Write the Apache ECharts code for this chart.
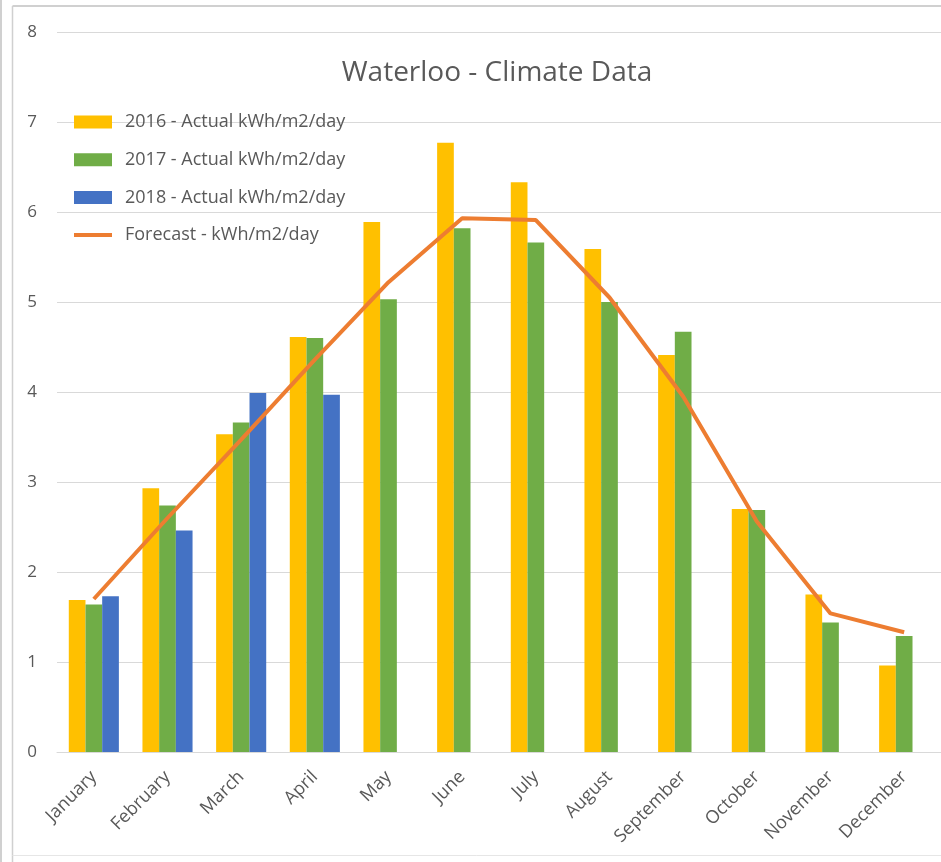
<!DOCTYPE html>
<html>
<head>
<meta charset="utf-8">
<title>Waterloo - Climate Data</title>
<script src="https://cdn.jsdelivr.net/npm/echarts@6/dist/echarts.min.js"></script>
<style>
  html, body { margin: 0; padding: 0; background: #ffffff; }
  #chart { width: 941px; height: 862px; }
</style>
</head>
<body>
<div id="chart"></div>
<script>
// Monthly solar irradiance for Waterloo (kWh/m2/day)
const months = ['January', 'February', 'March', 'April', 'May', 'June',
  'July', 'August', 'September', 'October', 'November', 'December'];
const actual2016 = [1.69, 2.93, 3.53, 4.61, 5.89, 6.77, 6.33, 5.59, 4.41, 2.70, 1.75, 0.96];
const actual2017 = [1.64, 2.74, 3.66, 4.60, 5.03, 5.82, 5.66, 5.00, 4.67, 2.69, 1.44, 1.29];
const actual2018 = [1.73, 2.46, 3.99, 3.97, null, null, null, null, null, null, null, null];
const forecast = [1.70, 2.60, 3.47, 4.36, 5.22, 5.93, 5.91, 5.05, 3.95, 2.56, 1.54, 1.33];
const yTicks = [0, 1, 2, 3, 4, 5, 6, 7, 8];

const seriesNames = [
  '2016 - Actual kWh/m2/day',
  '2017 - Actual kWh/m2/day',
  '2018 - Actual kWh/m2/day',
  'Forecast - kWh/m2/day'
];

const textColor = '#595959';
const fontFamily = '"Open Sans", "Liberation Sans", sans-serif';

// Legend key for the forecast line: a 4px bar centred in the 38x13 icon box
// (the two zero-area sub-paths only pin the box to its full height).
const lineKeyIcon = 'path://M0,0L0.01,0Z M0,4.5L38,4.5L38,8.5L0,8.5Z M0,13L0.01,13Z';

const chart = echarts.init(document.getElementById('chart'), null, { renderer: 'canvas' });

const option = {
  backgroundColor: '#ffffff',
  animation: false,
  color: ['#FFC000', '#70AD47', '#4472C4', '#ED7D31'],
  title: {
    text: 'Waterloo - Climate Data',
    left: 492,
    textAlign: 'center',
    top: 54,
    textStyle: { color: textColor, fontSize: 28, fontWeight: 'normal', fontFamily: fontFamily }
  },
  legend: {
    orient: 'vertical',
    left: 69,
    top: 108,
    padding: 5,
    itemWidth: 38,
    itemHeight: 13,
    itemGap: 19.7,
    textStyle: { color: textColor, fontSize: 18, fontFamily: fontFamily, padding: [0, 0, 0, 8] },
    data: [
      { name: seriesNames[0], icon: 'rect' },
      { name: seriesNames[1], icon: 'rect' },
      { name: seriesNames[2], icon: 'rect' },
      { name: seriesNames[3], icon: lineKeyIcon, itemStyle: { color: '#ED7D31' } }
    ]
  },
  grid: { left: 57, right: 0, top: 32, bottom: 110, containLabel: false },
  xAxis: {
    type: 'category',
    data: months,
    axisLine: { show: true, lineStyle: { color: '#d9d9d9', width: 1 } },
    axisTick: { show: false },
    axisLabel: {
      rotate: 45,
      color: textColor,
      fontSize: 18,
      fontFamily: fontFamily,
      margin: 22,
      interval: 0
    }
  },
  yAxis: {
    type: 'value',
    min: yTicks[0],
    max: yTicks[yTicks.length - 1],
    interval: 1,
    axisLine: { show: false },
    axisTick: { show: false },
    splitLine: { lineStyle: { color: '#d9d9d9', width: 1 } },
    axisLabel: { color: textColor, fontSize: 17, fontFamily: fontFamily, margin: 20 }
  },
  graphic: [
    { type: 'line', shape: { x1: 12.5, y1: 6, x2: 941, y2: 6 }, style: { stroke: '#d0d0d0', lineWidth: 2 } },
    { type: 'line', shape: { x1: 12.5, y1: 6, x2: 12.5, y2: 862 }, style: { stroke: '#d0d0d0', lineWidth: 1.5 } },
    { type: 'line', shape: { x1: 12.5, y1: 855.5, x2: 941, y2: 855.5 }, style: { stroke: '#e6e6e6', lineWidth: 1 } },
    { type: 'line', shape: { x1: 1, y1: 0, x2: 1, y2: 862 }, style: { stroke: '#d0d0d0', lineWidth: 2 } }
  ],
  series: [
    {
      name: seriesNames[0], type: 'bar', data: actual2016,
      barGap: '0%', barCategoryGap: '32%'
    },
    {
      name: seriesNames[1], type: 'bar', data: actual2017,
      barGap: '0%', barCategoryGap: '32%'
    },
    {
      name: seriesNames[2], type: 'bar', data: actual2018,
      barGap: '0%', barCategoryGap: '32%'
    },
    {
      name: seriesNames[3], type: 'line', data: forecast,
      symbol: 'none',
      lineStyle: { width: 4, color: '#ED7D31' },
      z: 5
    }
  ]
};

chart.setOption(option);
</script>
</body>
</html>
